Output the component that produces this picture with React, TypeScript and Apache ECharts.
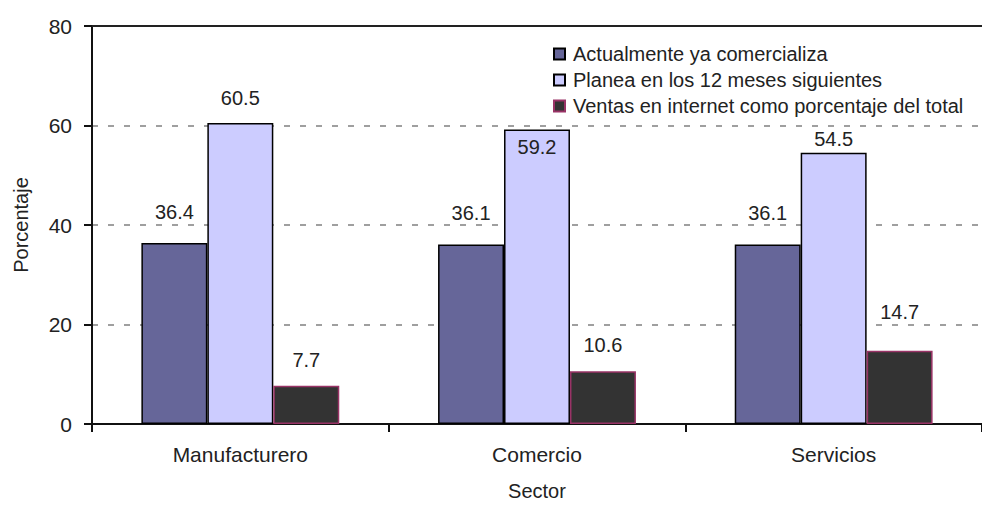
import React, { useEffect, useRef } from "react";
import * as echarts from "echarts";

// Sectors on the horizontal axis
const sectors = ["Manufacturero", "Comercio", "Servicios"];

// Series names (legend)
const seriesNames = [
  "Actualmente ya comercializa",
  "Planea en los 12 meses siguientes",
  "Ventas en internet como porcentaje del total",
];

// Values in percent
const actualmente = [36.4, 36.1, 36.1];
const planea = [60.5, 59.2, 54.5];
const ventas = [7.7, 10.6, 14.7];

// Vertical axis ticks
const yTicks = [0, 20, 40, 60, 80];

const FONT = "'Liberation Sans', Arial, Helvetica, sans-serif";
const TEXT = "#222222";

// Vertical nudge (px) for each value label, relative to the bar top; positive = upward
const labelLift = [
  [21, 21, 21],
  [15, -28, 4],
  [16, 16, 29],
];

const fills = ["#666699", "#CCCCFF", "#333333"];
const borders = ["#000000", "#000000", "#993366"];

export default function App() {
  const ref = useRef<HTMLDivElement>(null);

  useEffect(() => {
    if (!ref.current) return;
    const chart = echarts.init(ref.current, null, { renderer: "svg" });
    const values = [actualmente, planea, ventas];

    const series = values.map((vals, si) => ({
      name: seriesNames[si],
      type: "bar",
      xAxisIndex: 0,
      barGap: "0%",
      barCategoryGap: "33.3%",
      itemStyle: {
        color: fills[si],
        borderColor: borders[si],
        borderWidth: 1.5,
      },
      data: vals.map((v, i) => ({
        value: v,
        label: {
          show: true,
          position: "top",
          distance: 0,
          offset: [0, -labelLift[si][i]],
          formatter: (p: any) => p.value.toFixed(1),
          fontFamily: FONT,
          fontSize: 20,
          color: TEXT,
        },
      })),
    }));

    chart.setOption({
      animation: false,
      backgroundColor: "#ffffff",
      textStyle: { fontFamily: FONT },
      grid: { left: 92, top: 26, right: -10, bottom: 80, containLabel: false },
      legend: {
        orient: "vertical",
        left: 548,
        top: 39,
        itemWidth: 11,
        itemHeight: 11,
        itemGap: 6,
        icon: "rect",
        data: seriesNames,
        textStyle: {
          fontFamily: FONT,
          fontSize: 20,
          color: TEXT,
          padding: [0, 0, 0, 3],
        },
      },
      xAxis: [
        {
          type: "category",
          data: sectors,
          position: "bottom",
          name: "Sector",
          nameLocation: "middle",
          nameGap: 57,
          nameTextStyle: { fontFamily: FONT, fontSize: 20, color: TEXT },
          axisLine: { show: true, lineStyle: { color: "#111111", width: 2 } },
          axisTick: { show: true, length: 8, lineStyle: { color: "#111111", width: 2 } },
          axisLabel: { fontFamily: FONT, fontSize: 21, color: TEXT, margin: 20 },
          splitLine: { show: false },
        },
        {
          type: "category",
          data: sectors,
          position: "top",
          axisLine: { show: true, lineStyle: { color: "#222222", width: 2 } },
          axisTick: { show: false },
          axisLabel: { show: false },
          splitLine: { show: false },
        },
      ],
      yAxis: {
        type: "value",
        min: yTicks[0],
        max: yTicks[yTicks.length - 1],
        interval: yTicks[1] - yTicks[0],
        name: "Porcentaje",
        nameLocation: "middle",
        nameGap: 61,
        nameTextStyle: { fontFamily: FONT, fontSize: 20, color: TEXT },
        axisLine: { show: true, lineStyle: { color: "#111111", width: 2 } },
        axisTick: { show: true, length: 8, lineStyle: { color: "#111111", width: 2 } },
        axisLabel: { fontFamily: FONT, fontSize: 21, color: TEXT, margin: 20 },
        splitLine: {
          show: true,
          lineStyle: { color: "#808080", width: 1.5, type: [6, 10] },
        },
      },
      series,
    });

    return () => chart.dispose();
  }, []);

  return (
    <div
      ref={ref}
      style={{ position: "fixed", left: 0, top: 0, width: 982, height: 506, background: "#fff" }}
    />
  );
}
